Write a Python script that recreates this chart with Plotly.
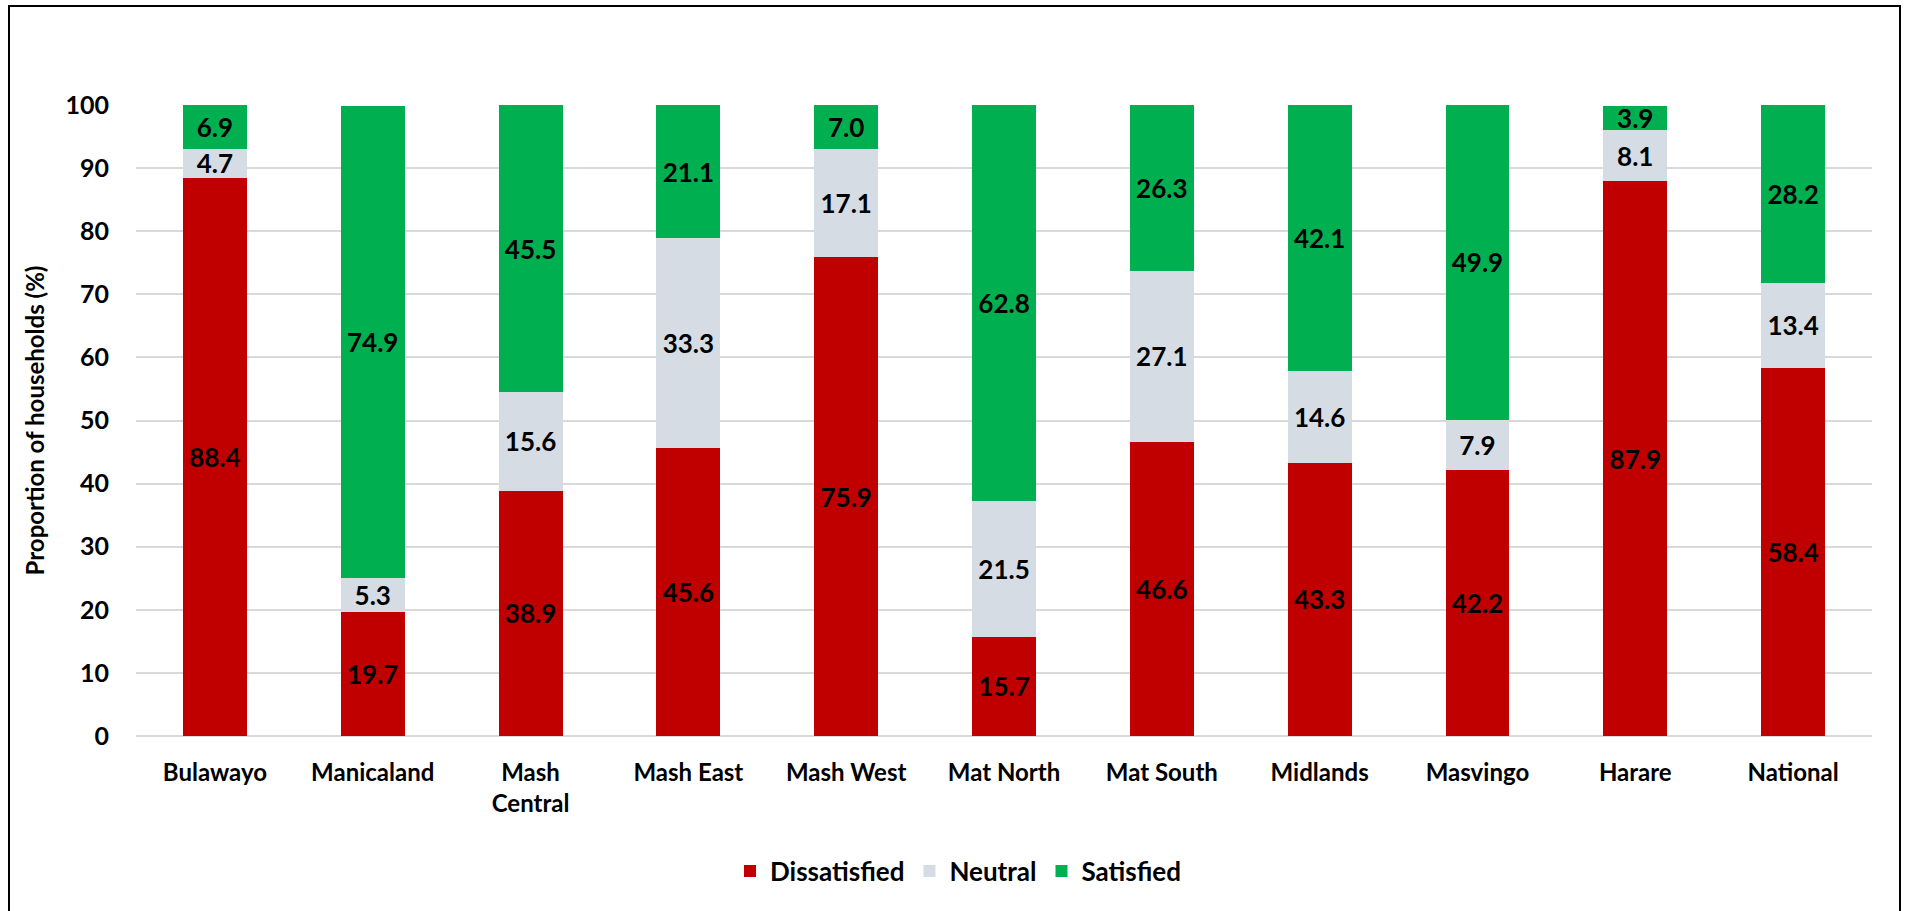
import plotly.graph_objects as go

categories = ["Bulawayo", "Manicaland", "Mash<br>Central", "Mash East", "Mash West",
              "Mat North", "Mat South", "Midlands", "Masvingo", "Harare", "National"]
dissatisfied = [88.4, 19.7, 38.9, 45.6, 75.9, 15.7, 46.6, 43.3, 42.2, 87.9, 58.4]
neutral = [4.7, 5.3, 15.6, 33.3, 17.1, 21.5, 27.1, 14.6, 7.9, 8.1, 13.4]
satisfied = [6.9, 74.9, 45.5, 21.1, 7.0, 62.8, 26.3, 42.1, 49.9, 3.9, 28.2]
y_ticks = [0, 10, 20, 30, 40, 50, 60, 70, 80, 90, 100]

FONT = "Lato"
W, H = 1910, 911
L, R, T, B = 136, 38, 105, 175
pw, ph = W - L - R, H - T - B

def px_x(p):
    return (p - L) / pw

def px_y(p):
    return (H - B - p) / ph

series = [("Dissatisfied", dissatisfied, "#C00000"),
          ("Neutral", neutral, "#D6DCE4"),
          ("Satisfied", satisfied, "#00B050")]

fig = go.Figure()
for name, vals, col in series:
    fig.add_trace(go.Bar(
        x=categories, y=vals, name=name,
        marker=dict(color=col, line=dict(width=0)),
        texttemplate="%{y:.1f}", textposition="inside",
        insidetextanchor="middle", constraintext="none",
        textfont=dict(family=FONT, size=26, color="black", weight="bold"),
        hoverinfo="skip",
    ))

fig.update_layout(
    barmode="stack", bargap=0.595,
    width=W, height=H,
    margin=dict(l=L, r=R, t=T, b=B, autoexpand=False),
    paper_bgcolor="white", plot_bgcolor="white",
    font=dict(family=FONT, size=24, color="black", weight="bold"),
    showlegend=True,
    legend=dict(orientation="h", x=px_x(958), xanchor="center",
                y=px_y(871), yanchor="middle",
                font=dict(family=FONT, size=26, color="black", weight="bold"),
                traceorder="normal", itemwidth=30),
    xaxis=dict(showgrid=False, showline=False, ticks="", ticklabelstandoff=20,
               tickfont=dict(family=FONT, size=24, color="black", weight="bold")),
    yaxis=dict(range=[0, 100], tickvals=y_ticks, showgrid=True,
               gridcolor="#D9D9D9", gridwidth=1.5, zeroline=True,
               zerolinecolor="#D9D9D9", zerolinewidth=1.5,
               ticks="", ticklabelstandoff=26,
               tickfont=dict(family=FONT, size=25, color="black", weight="bold"),
               title=dict(text="Proportion of households (%)", standoff=14,
                          font=dict(family=FONT, size=24, color="black", weight="bold"))),
    uniformtext=dict(mode="show", minsize=26),
)

fig.add_shape(type="rect", xref="paper", yref="paper",
              x0=px_x(9), x1=px_x(1900), y0=px_y(920), y1=px_y(6),
              line=dict(color="black", width=2), fillcolor="rgba(0,0,0,0)", layer="above")

fig.write_html("out.html")
